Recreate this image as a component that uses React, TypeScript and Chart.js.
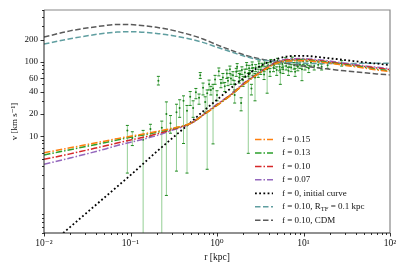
import React, { useEffect, useRef } from 'react';
import { Chart, registerables } from 'chart.js';
Chart.register(...registerables);

// ---- model curves (r in kpc, v in km/s) ----
const radii = [0.01, 0.02, 0.05, 0.07, 0.1, 0.2, 0.3, 0.5, 0.7, 1, 1.5, 2, 3, 5, 7, 10, 15, 20, 30, 50, 70, 100];
const vF015 = [6.0, 7.0, 8.6, 9.3, 10.0, 11.6, 12.8, 15.0, 19.5, 26, 37, 49, 69, 97, 103, 104, 100, 96, 90, 83, 78, 74];
const vF013 = [5.6, 6.6, 8.2, 8.9, 9.7, 11.3, 12.6, 15.0, 19.5, 26, 37, 49, 69, 98, 105, 106, 102, 98, 92, 85, 80, 76];
const vF010 = [4.9, 5.8, 7.4, 8.1, 8.9, 10.7, 12.3, 15.0, 19.6, 26.5, 37.5, 50, 70, 100, 107, 108, 104, 100, 94, 87, 83, 79];
const vF007 = [4.2, 5.1, 6.7, 7.5, 8.3, 10.2, 12.0, 14.9, 19.7, 27, 38, 51, 71, 102, 110, 111, 107, 103, 96, 89, 85, 81];
const vInitial = [0.3, 0.6, 1.5, 2.1, 3.0, 6.2, 9.3, 15.5, 22, 31, 46, 60, 85, 110, 120, 121, 116, 112, 106, 99, 95, 91];
const vRtf = [174, 205, 243, 252, 255, 242, 227, 202, 182, 158, 135, 121, 108, 101, 98, 96, 95, 95, 95, 96, 96, 96];
const vCdm = [216, 262, 308, 320, 318, 292, 268, 230, 202, 170, 142, 126, 111, 100, 94, 88, 83, 80, 76, 72, 69, 67];

// ---- observed data with error bars ----
const dataR = [0.092, 0.105, 0.14, 0.17, 0.21, 0.23, 0.26, 0.29, 0.34, 0.37, 0.41, 0.45, 0.49, 0.53, 0.57, 0.62, 0.64, 0.69, 0.73, 0.77, 0.81, 0.85, 0.9, 0.95, 1.0, 1.05, 1.11, 1.17, 1.23, 1.3, 1.34, 1.41, 1.45, 1.53, 1.58, 1.6, 1.67, 1.71, 1.81, 1.84, 1.9, 1.94, 2.0, 2.1, 2.2, 2.3, 2.35, 2.4, 2.5, 2.55, 2.6, 2.75, 2.8, 3.0, 3.05, 3.2, 3.3, 3.5, 3.55, 3.8, 3.9, 4.1, 4.2, 4.5, 4.6, 4.9, 5.0, 5.3, 5.4, 5.7, 5.8, 6.2, 6.3, 6.7, 6.8, 7.2, 7.4, 7.8, 8.0, 8.4, 8.6, 9.1, 9.6, 9.9, 10.4, 11, 11.5, 12.2, 13.3, 14.8, 16.2, 19, 27.6];
const dataV = [12, 9.5, 9, 12.5, 56, 13, 20, 15, 21, 24, 30, 22, 34, 24, 39, 33, 66, 45, 29, 38, 50, 42, 44, 58, 36, 75, 52, 62, 47, 70, 56, 80, 60, 66, 50, 36, 74, 86, 62, 68, 28, 78, 57, 72, 90, 64, 82, 70, 44, 92, 76, 62, 84, 72, 95, 78, 88, 68, 96, 80, 90, 74, 100, 84, 92, 78, 104, 86, 72, 94, 80, 106, 88, 76, 96, 84, 108, 90, 74, 98, 86, 92, 80, 102, 88, 94, 82, 98, 88, 92, 86, 90, 96];
const dataLo = [3.2, 7.5, 0.3, 10, 49, 0.3, 1.6, 11, 3.4, 18, 8, 3.2, 26, 18, 32, 27, 60, 36, 21, 3.6, 42, 36, 7.9, 50, 30, 65, 45, 52, 40, 60, 48, 70, 50, 57, 40, 28, 64, 75, 52, 56, 22, 68, 47, 62, 80, 5.9, 72, 60, 36, 82, 66, 30, 74, 62, 85, 68, 78, 58, 86, 38, 81, 64, 90, 74, 82, 66, 94, 76, 50, 84, 70, 96, 78, 66, 86, 74, 98, 80, 64, 88, 76, 82, 56, 92, 78, 84, 72, 88, 78, 84, 78, 82, 88];
const dataHi = [14, 11.5, 12, 14.5, 64, 16, 29, 19, 27, 31, 35, 26, 40, 30, 44, 37, 72, 52, 34, 42, 57, 47, 50, 66, 41, 83, 58, 70, 53, 78, 62, 88, 67, 74, 56, 42, 82, 95, 70, 76, 33, 86, 64, 80, 98, 70, 90, 77, 50, 100, 84, 70, 92, 80, 103, 86, 96, 74, 104, 88, 98, 82, 108, 92, 100, 86, 112, 94, 80, 102, 88, 114, 96, 84, 104, 92, 116, 98, 82, 106, 94, 100, 88, 110, 96, 102, 90, 106, 96, 100, 94, 98, 104];

// ---- axes ----
const xTickValues = [0.01, 0.1, 1, 10, 100];
const xTickLabels = ['10\u207B\u00B2', '10\u207B\u00B9', '10\u2070', '10\u00B9', '10\u00B2'];
const yTickValues = [10, 20, 40, 60, 100, 200];
const yTickLabels = ['10', '20', '40', '60', '100', '200'];
const xTitle = 'r [kpc]';
const yTitle = 'v [km s\u207B\u00B9]';

const legendLabels = ['f = 0.15', 'f = 0.13', 'f = 0.10', 'f = 0.07', 'f = 0, initial curve', 'f = 0.10, R_TF = 0.1 kpc', 'f = 0.10, CDM'];

const FONT = "'Liberation Serif', 'DejaVu Serif', serif";

function curve(vals: number[]) {
  return radii.map((r, i) => ({ x: r, y: vals[i] }));
}

const curveDefs = [
  { label: legendLabels[0], vals: vF015, color: '#ff7f0e', dash: [6.5, 2, 1.5, 2], width: 1.5 },
  { label: legendLabels[1], vals: vF013, color: '#2ca02c', dash: [6.5, 2, 1.5, 2], width: 1.5 },
  { label: legendLabels[2], vals: vF010, color: '#d62728', dash: [6.5, 2, 1.5, 2], width: 1.5 },
  { label: legendLabels[3], vals: vF007, color: '#9467bd', dash: [6.5, 2, 1.5, 2], width: 1.5 },
  { label: legendLabels[4], vals: vInitial, color: '#000000', dash: [1.8, 2.4], width: 1.8 },
  { label: legendLabels[5], vals: vRtf, color: '#5f9ea0', dash: [5.5, 2.5], width: 1.5 },
  { label: legendLabels[6], vals: vCdm, color: '#5a5a5a', dash: [5.5, 2.5], width: 1.5 },
];

const minorTicks = (lo: number, hi: number, majors: number[]) => {
  const out: number[] = [];
  for (let e = Math.floor(Math.log10(lo)); e <= Math.ceil(Math.log10(hi)); e++) {
    for (let m = 1; m <= 9; m++) {
      const v = m * Math.pow(10, e);
      if (v < lo * 0.999 || v > hi * 1.001) continue;
      if (majors.some((mv) => Math.abs(mv - v) / v < 1e-6)) continue;
      if (m === 1 && majors === yTickValues) continue;
      out.push(v);
    }
  }
  return out;
};

const framePlugin = {
  id: 'frame',
  afterDraw(chart: any) {
    const { ctx, chartArea, scales } = chart;
    const { left, right, top, bottom } = chartArea;
    const x = scales.x, y = scales.y;
    ctx.save();
    // spines
    ctx.lineWidth = 1.2;
    ctx.strokeStyle = '#888';
    ctx.beginPath();
    ctx.moveTo(left, top); ctx.lineTo(right, top); ctx.lineTo(right, bottom);
    ctx.stroke();
    ctx.strokeStyle = '#222';
    ctx.lineWidth = 1;
    ctx.beginPath();
    ctx.moveTo(left, top); ctx.lineTo(left, bottom); ctx.lineTo(right, bottom);
    ctx.stroke();
    // ticks
    ctx.strokeStyle = '#000';
    ctx.lineWidth = 0.8;
    ctx.beginPath();
    for (const v of xTickValues) {
      const px = Math.round(x.getPixelForValue(v)) + 0.5;
      ctx.moveTo(px, bottom); ctx.lineTo(px, bottom + 3.5);
    }
    for (const v of minorTicks(0.01, 100, xTickValues)) {
      const px = Math.round(x.getPixelForValue(v)) + 0.5;
      ctx.moveTo(px, bottom); ctx.lineTo(px, bottom + 2);
    }
    for (const v of yTickValues) {
      const py = Math.round(y.getPixelForValue(v)) + 0.5;
      ctx.moveTo(left, py); ctx.lineTo(left - 3.5, py);
    }
    for (const v of minorTicks(0.5, 500, yTickValues)) {
      const py = Math.round(y.getPixelForValue(v)) + 0.5;
      ctx.moveTo(left, py); ctx.lineTo(left - 2, py);
    }
    ctx.stroke();

    // legend
    const lx0 = 255, lx1 = 273, tx = 282, y0 = 139.5, dy = 13.45;
    curveDefs.forEach((c, i) => {
      const yy = y0 + i * dy;
      ctx.save();
      ctx.strokeStyle = c.color;
      ctx.lineWidth = c.width;
      ctx.setLineDash(c.dash);
      ctx.beginPath();
      ctx.moveTo(lx0, yy); ctx.lineTo(lx1, yy);
      ctx.stroke();
      ctx.restore();
      ctx.fillStyle = '#111';
      ctx.textBaseline = 'middle';
      ctx.textAlign = 'left';
      const parts = c.label.split(/_(\w+)/);
      let cx = tx;
      parts.forEach((p, k) => {
        if (k % 2 === 1) {
          ctx.font = `6.5px ${FONT}`;
          ctx.fillText(p, cx, yy + 2.5);
        } else {
          ctx.font = `9px ${FONT}`;
          ctx.fillText(p, cx, yy);
        }
        cx += ctx.measureText(p).width;
      });
    });
    ctx.restore();
  },
};

export default function App() {
  const ref = useRef<HTMLCanvasElement>(null);
  useEffect(() => {
    document.body.style.margin = '0';
    const barData: any[] = [];
    dataR.forEach((r, i) => {
      barData.push({ x: r, y: dataLo[i] }, { x: r, y: dataHi[i] }, { x: r, y: null });
    });
    const datasets: any[] = curveDefs.map((c) => ({
      label: c.label,
      data: curve(c.vals),
      showLine: true,
      borderColor: c.color,
      borderWidth: c.width,
      borderDash: c.dash,
      pointRadius: 0,
      cubicInterpolationMode: 'monotone',
      order: 1,
    }));
    datasets.push({
      label: 'error bars',
      data: barData,
      showLine: true,
      spanGaps: false,
      borderColor: 'rgba(44,160,44,0.5)',
      borderWidth: 1,
      pointStyle: 'line',
      pointRadius: 1.5,
      pointBorderColor: '#1f8a1f',
      pointBorderWidth: 1,
      order: 20,
    });
    datasets.push({
      label: 'data',
      data: dataR.map((r, i) => ({ x: r, y: dataV[i] })),
      showLine: false,
      pointRadius: 1,
      pointBackgroundColor: '#1a7f1a',
      pointBorderColor: '#1a7f1a',
      pointBorderWidth: 0,
      order: 10,
    });
    const chart = new Chart(ref.current as HTMLCanvasElement, {
      type: 'scatter',
      data: { datasets },
      options: {
        animation: false,
        responsive: false,
        devicePixelRatio: 1,
        layout: { padding: { top: 10, right: 17, left: 0, bottom: 0 } },
        plugins: { legend: { display: false }, tooltip: { enabled: false } },
        scales: {
          x: {
            type: 'logarithmic',
            min: 0.01,
            max: 100,
            afterBuildTicks: (s: any) => { s.ticks = xTickValues.map((v) => ({ value: v })); },
            afterFit: (s: any) => { s.height = 38; },
            grid: { display: true, drawOnChartArea: false, drawTicks: true, tickLength: 4, tickColor: 'rgba(0,0,0,0)' },
            border: { display: false },
            ticks: {
              autoSkip: false,
              maxRotation: 0,
              padding: 1,
              color: '#111',
              font: { family: FONT, size: 9.5 },
              callback: (_v: any, i: number) => xTickLabels[i],
            },
            title: { display: true, text: xTitle, color: '#111', font: { family: FONT, size: 9.5 }, padding: { top: 0, bottom: 8 } },
          },
          y: {
            type: 'logarithmic',
            min: 0.5,
            max: 500,
            afterBuildTicks: (s: any) => { s.ticks = yTickValues.map((v) => ({ value: v })); },
            afterFit: (s: any) => { s.width = 44; },
            grid: { display: true, drawOnChartArea: false, drawTicks: true, tickLength: 4, tickColor: 'rgba(0,0,0,0)' },
            border: { display: false },
            ticks: {
              autoSkip: false,
              padding: 2,
              color: '#111',
              font: { family: FONT, size: 9 },
              callback: (_v: any, i: number) => yTickLabels[i],
            },
            title: { display: true, text: yTitle, color: '#111', font: { family: FONT, size: 9 }, padding: { top: 9, bottom: 0 } },
          },
        },
      },
      plugins: [framePlugin],
    } as any);
    return () => chart.destroy();
  }, []);
  return <canvas ref={ref} width={407} height={271} style={{ display: 'block', width: 407, height: 271 }} />;
}
